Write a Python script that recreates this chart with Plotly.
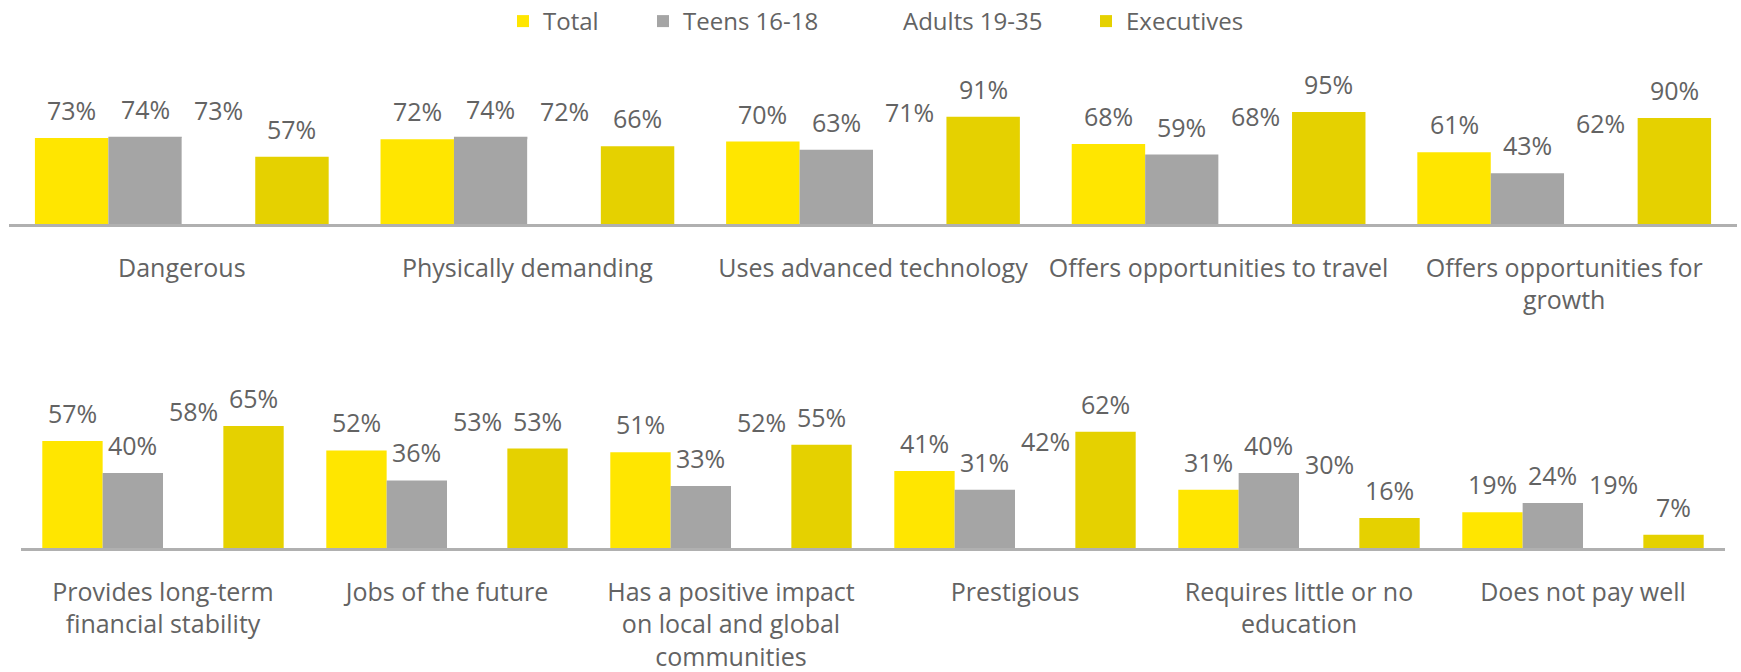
import plotly.graph_objects as go

# ---------------- data ----------------
series_names = ["Total", "Teens 16-18", "Adults 19-35", "Executives"]

top_categories = ["Dangerous", "Physically demanding", "Uses advanced technology",
                  "Offers opportunities to travel", "Offers opportunities for growth"]
top_tick_labels = ["Dangerous", "Physically demanding", "Uses advanced technology",
                   "Offers opportunities to travel", "Offers opportunities for<br>growth"]
top_total = [73, 72, 70, 68, 61]
top_teens = [74, 74, 63, 59, 43]
top_adults = [73, 72, 71, 68, 62]
top_exec = [57, 66, 91, 95, 90]

bottom_categories = ["Provides long-term financial stability", "Jobs of the future",
                     "Has a positive impact on local and global communities", "Prestigious",
                     "Requires little or no education", "Does not pay well"]
bottom_tick_labels = ["Provides long-term<br>financial stability", "Jobs of the future",
                      "Has a positive impact<br>on local and global<br>communities", "Prestigious",
                      "Requires little or no<br>education", "Does not pay well"]
bottom_total = [57, 52, 51, 41, 31, 19]
bottom_teens = [40, 36, 33, 31, 40, 24]
bottom_adults = [58, 53, 52, 42, 30, 19]
bottom_exec = [65, 53, 55, 62, 16, 7]

# ---------------- style ----------------
colors = ["#FFE600", "#A5A5A5", "#FFFFFF", "#E5D100"]
text_color = "#636363"
font_family = "Open Sans"
W, H = 1741, 672
BARGAP = 0.15

top_dom_px = (9, 1737)
bot_dom_px = (21, 1725)
top_y_px = (224, 106.2)     # axis line, top of 0-100 range
bot_y_px = (548, 360.3)

top_vals = [top_total, top_teens, top_adults, top_exec]
bottom_vals = [bottom_total, bottom_teens, bottom_adults, bottom_exec]
legend_ids = ["legend", "legend2", "legend3", "legend4"]
legend_text_x = [543, 683, 903, 1126]  # x where each legend label starts

fig = go.Figure()
for name, color, tv, bv, lg in zip(series_names, colors, top_vals, bottom_vals, legend_ids):
    fig.add_trace(go.Bar(
        x=top_categories, y=tv, name=name, marker=dict(color=color, line=dict(width=0)),
        xaxis="x", yaxis="y", legendgroup=name, showlegend=True, legend=lg,
    ))
    fig.add_trace(go.Bar(
        x=bottom_categories, y=bv, name=name, marker=dict(color=color, line=dict(width=0)),
        xaxis="x2", yaxis="y2", legendgroup=name, showlegend=False, legend=lg,
    ))

# value labels above each bar (through the axes, shifted to the bar's slot in the group)
annotations = []
n = len(series_names)
for cats, vals_list, dom, xr, yr in [
    (top_categories, top_vals, top_dom_px, "x", "y"),
    (bottom_categories, bottom_vals, bot_dom_px, "x2", "y2"),
]:
    cat_w = (dom[1] - dom[0]) / len(cats)
    bar_w = cat_w * (1 - BARGAP) / n
    for i, vals in enumerate(vals_list):
        for c, v in zip(cats, vals):
            annotations.append(dict(
                x=c, y=v, xref=xr, yref=yr, text=f"{v}%", showarrow=False,
                xanchor="center", yanchor="bottom", xshift=(i - (n - 1) / 2) * bar_w, yshift=9,
                font=dict(size=25, color=text_color, family=font_family),
            ))

axis_common = dict(showline=True, linecolor="#B0B0B0", linewidth=2.5, ticks="",
                   showgrid=False, zeroline=False,
                   tickfont=dict(size=25, color=text_color, family=font_family),
                   ticklabelstandoff=20, tickangle=0)

legend_layouts = {}
for lg, tx in zip(legend_ids, legend_text_x):
    legend_layouts[lg] = dict(
        orientation="h", x=(tx - 40) / W, xanchor="left",
        y=1 - 21.5 / H, yanchor="middle",
        font=dict(size=24, color=text_color, family=font_family),
        itemclick=False, itemdoubleclick=False, bgcolor="rgba(0,0,0,0)",
    )

fig.update_layout(
    width=W, height=H,
    margin=dict(l=0, r=0, t=0, b=0, autoexpand=False),
    paper_bgcolor="white", plot_bgcolor="white",
    barmode="group", bargap=BARGAP, bargroupgap=0,
    font=dict(family=font_family, color=text_color),
    showlegend=True,
    annotations=annotations,
    xaxis=dict(domain=[top_dom_px[0] / W, top_dom_px[1] / W], anchor="y", automargin=False,
               tickvals=top_categories, ticktext=top_tick_labels, **axis_common),
    yaxis=dict(domain=[1 - top_y_px[0] / H, 1 - top_y_px[1] / H], range=[0, 100],
               visible=False, anchor="x"),
    xaxis2=dict(domain=[bot_dom_px[0] / W, bot_dom_px[1] / W], anchor="y2", automargin=False,
                tickvals=bottom_categories, ticktext=bottom_tick_labels, **axis_common),
    yaxis2=dict(domain=[1 - bot_y_px[0] / H, 1 - bot_y_px[1] / H], range=[0, 100],
                visible=False, anchor="x2"),
    **legend_layouts,
)

fig.write_html("out.html", config={"displayModeBar": False},
               post_script="document.body.style.margin='0';document.body.style.overflow='hidden';")
